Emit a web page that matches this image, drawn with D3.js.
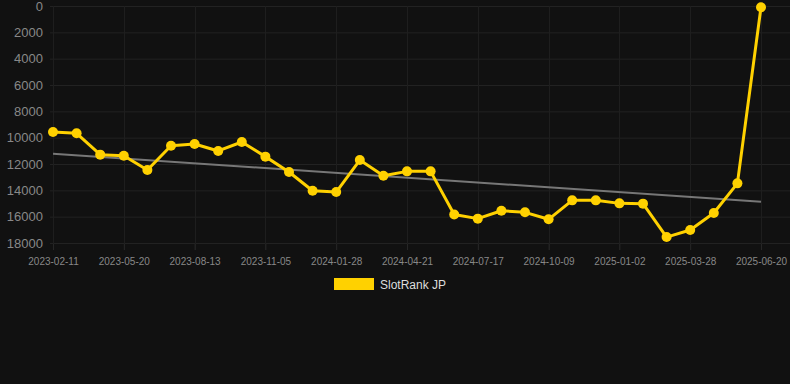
<!DOCTYPE html>
<html><head><meta charset="utf-8">
<script src="https://cdn.jsdelivr.net/npm/d3@7"></script>
<style>html,body{margin:0;padding:0;background:#111111;}svg{display:block;}</style>
</head><body>
<script>
const categories = ["2023-02-11","2023-03-11","2023-04-15","2023-05-20","2023-06-17","2023-07-15","2023-08-13","2023-09-10","2023-10-08","2023-11-05","2023-12-03","2023-12-31","2024-01-28","2024-02-25","2024-03-24","2024-04-21","2024-05-19","2024-06-19","2024-07-17","2024-08-14","2024-09-11","2024-10-09","2024-11-06","2024-12-04","2025-01-02","2025-01-30","2025-02-28","2025-03-28","2025-04-25","2025-05-23","2025-06-20"];
const rankValues = [9570,9670,11290,11370,12460,10610,10480,11010,10330,11440,12610,14030,14130,11700,12890,12560,12560,15830,16150,15550,15670,16200,14760,14760,14990,15010,17550,17010,15720,13470,100];
const trendValues = [11220,14860];
const yTicks = [0,2000,4000,6000,8000,10000,12000,14000,16000,18000];
const seriesName = "SlotRank JP";

const W=790,H=384;
const svg=d3.select("body").append("svg").attr("width",W).attr("height",H);
svg.append("rect").attr("width",W).attr("height",H).attr("fill","#111111");

const x=d3.scalePoint().domain(categories).range([53,761]);
const y=d3.scaleLinear().domain([0,18000]).range([6,243]);
const tickCats=categories.filter((d,i)=>i%3===0);

// grid
const g=svg.append("g");
g.selectAll("line.h").data(yTicks).join("line")
 .attr("x1",50).attr("x2",790).attr("y1",d=>y(d)+0.5).attr("y2",d=>y(d)+0.5)
 .attr("stroke","#222222").attr("stroke-width",1);
g.selectAll("line.v").data(tickCats).join("line")
 .attr("x1",d=>Math.round(x(d))+0.5).attr("x2",d=>Math.round(x(d))+0.5).attr("y1",6).attr("y2",250)
 .attr("stroke","#1e1e1e").attr("stroke-width",1);

// y axis
const ya=svg.append("g").attr("transform","translate(43,0)")
 .call(d3.axisLeft(y).tickValues(yTicks).tickSize(0).tickPadding(0).tickFormat(d3.format("d")));
ya.select(".domain").remove();
ya.selectAll("text").attr("fill","#888888").attr("font-size","13px").attr("font-family","Liberation Sans, Arial, sans-serif");

// x axis
const xa=svg.append("g").attr("transform","translate(0,244)")
 .call(d3.axisBottom(x).tickValues(tickCats).tickSize(6).tickPadding(8));
xa.select(".domain").remove();
xa.selectAll("line").attr("stroke","#262626");
xa.selectAll("text").attr("fill","#888888").attr("font-size","10px").attr("font-family","Liberation Sans, Arial, sans-serif");

// trend
svg.append("line")
 .attr("x1",x(categories[0])).attr("y1",y(trendValues[0]))
 .attr("x2",x(categories[categories.length-1])).attr("y2",y(trendValues[1]))
 .attr("stroke","#777777").attr("stroke-width",2);

// series
const data=categories.map((c,i)=>({c,v:rankValues[i]}));
svg.append("path").datum(data)
 .attr("d",d3.line().x(d=>x(d.c)).y(d=>y(d.v)))
 .attr("fill","none").attr("stroke","#FFD100").attr("stroke-width",3).attr("stroke-linejoin","round");
svg.selectAll("circle.pt").data(data).join("circle")
 .attr("cx",d=>x(d.c)).attr("cy",d=>y(d.v)).attr("r",5).attr("fill","#FFD100");

// legend
svg.append("rect").attr("x",334).attr("y",278).attr("width",40).attr("height",12).attr("fill","#FFD100");
svg.append("text").attr("x",380).attr("y",288.5).text(seriesName)
 .attr("fill","#dddddd").attr("font-size","12px").attr("font-family","Liberation Sans, Arial, sans-serif");
</script>
</body></html>
